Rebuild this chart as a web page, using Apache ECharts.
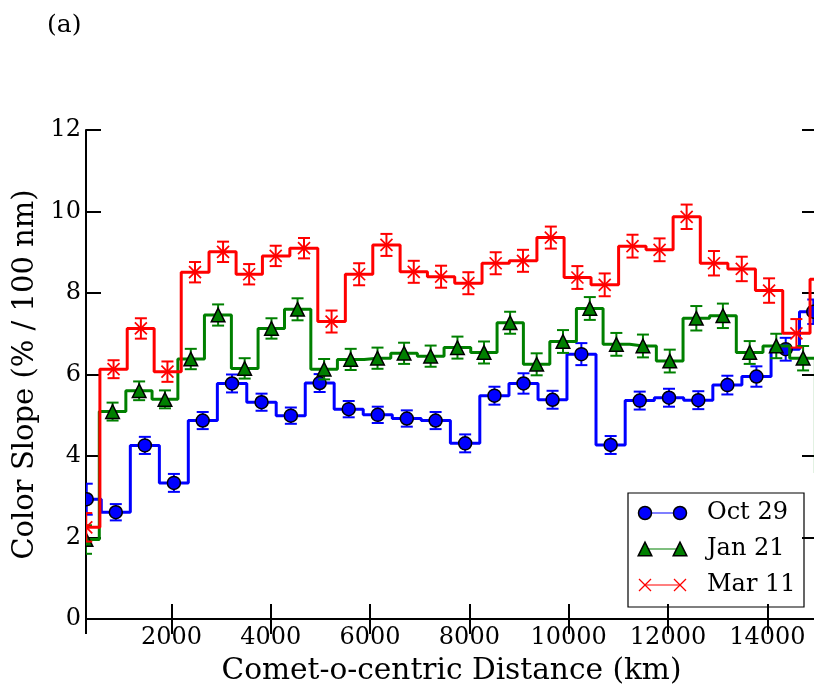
<!DOCTYPE html>
<html>
<head>
<meta charset="utf-8" />
<title></title>
<script type="text/javascript" src="https://cdn.jsdelivr.net/npm/echarts/dist/echarts.min.js"></script>
<style>html,body{margin:0;padding:0;background:#fff;}</style>
</head>
<body>
<div id="chart" style="width:814px;height:692px;"></div>
<script type="text/javascript">
// distance (km), colour slope (% / 100 nm) and error for each date
var octX = [295, 880, 1465, 2050, 2630, 3220, 3815, 4405, 4985, 5570, 6155, 6740, 7320, 7915, 8505, 9090, 9675, 10255, 10845, 11430, 12020, 12610, 13195, 13780, 14370, 14925];
var octY = [2.94, 2.62, 4.26, 3.34, 4.87, 5.78, 5.32, 4.99, 5.79, 5.15, 5.01, 4.92, 4.87, 4.31, 5.48, 5.78, 5.38, 6.50, 4.27, 5.36, 5.43, 5.37, 5.74, 5.95, 6.62, 7.54];
var octErr = [0.38, 0.2, 0.21, 0.22, 0.21, 0.22, 0.21, 0.2, 0.22, 0.2, 0.2, 0.2, 0.21, 0.22, 0.22, 0.25, 0.22, 0.27, 0.22, 0.22, 0.22, 0.22, 0.23, 0.25, 0.28, 0.3];

var janX = [280, 815, 1350, 1870, 2390, 2940, 3475, 4015, 4540, 5075, 5610, 6150, 6685, 7220, 7760, 8295, 8820, 9355, 9885, 10425, 10960, 11495, 12035, 12570, 13105, 13645, 14180, 14720, 15215];
var janY = [1.95, 5.09, 5.60, 5.39, 6.38, 7.46, 6.15, 7.13, 7.60, 6.13, 6.37, 6.40, 6.52, 6.45, 6.66, 6.54, 7.27, 6.25, 6.81, 7.62, 6.74, 6.70, 6.33, 7.38, 7.44, 6.54, 6.70, 6.40, 3.58];
var janErr = [0.35, 0.22, 0.23, 0.22, 0.25, 0.26, 0.25, 0.25, 0.27, 0.25, 0.26, 0.26, 0.26, 0.26, 0.27, 0.27, 0.27, 0.27, 0.28, 0.28, 0.28, 0.28, 0.28, 0.3, 0.3, 0.28, 0.3, 0.3, 0.35];

var marX = [285, 835, 1385, 1920, 2475, 3040, 3565, 4100, 4670, 5225, 5780, 6330, 6880, 7430, 7980, 8530, 9080, 9640, 10175, 10725, 11285, 11830, 12375, 12925, 13485, 14035, 14585, 15135];
var marY = [2.25, 6.13, 7.13, 6.07, 8.51, 9.01, 8.46, 8.91, 9.10, 7.30, 8.46, 9.18, 8.52, 8.40, 8.24, 8.73, 8.79, 9.36, 8.38, 8.20, 9.15, 9.06, 9.87, 8.73, 8.59, 8.06, 7.01, 8.34];
var marErr = [0.35, 0.22, 0.25, 0.25, 0.25, 0.25, 0.25, 0.25, 0.25, 0.27, 0.27, 0.27, 0.27, 0.27, 0.27, 0.27, 0.27, 0.27, 0.28, 0.28, 0.28, 0.28, 0.3, 0.3, 0.3, 0.3, 0.35, 0.35];

var names = ['Oct 29', 'Jan 21', 'Mar 11'];
var colors = ['#0000ff', '#008000', '#ff0000'];
var markers = ['circle', 'triangle', 'cross'];

var FONT = 'DejaVu Serif';

function pairs(xs, ys) {
	return xs.map(function (x, i) { return [x, ys[i]]; });
}
function triples(xs, ys, es) {
	return xs.map(function (x, i) { return [x, ys[i], es[i]]; });
}

// marker shapes, centred on (cx, cy)
function markerShape(kind, cx, cy, col, small) {
	if (kind === 'circle') {
		return {type: 'circle', shape: {cx: cx, cy: cy, r: 6.5}, style: {fill: col, stroke: '#000', lineWidth: 1.5}};
	}
	if (kind === 'triangle') {
		var h = 6.8;
		return {type: 'polygon', shape: {points: [[cx, cy - h], [cx - h, cy + h], [cx + h, cy + h]]}, style: {fill: col, stroke: '#000', lineWidth: 1.5}};
	}
	var d = 6;
	return {type: 'group', children: [
		{type: 'line', shape: {x1: cx - d, y1: cy - d, x2: cx + d, y2: cy + d}, style: {stroke: col, lineWidth: small ? 1.2 : 1.7}},
		{type: 'line', shape: {x1: cx - d, y1: cy + d, x2: cx + d, y2: cy - d}, style: {stroke: col, lineWidth: small ? 1.2 : 1.7}}
	]};
}

// error bar + marker for each point
function errRender(kind, col) {
	return function (params, api) {
		var x = api.value(0), y = api.value(1), e = api.value(2);
		var c = api.coord([x, y]);
		var t = api.coord([x, y + e]);
		var b = api.coord([x, y - e]);
		var st = {stroke: col, lineWidth: 2};
		return {
			type: 'group',
			children: [
				{type: 'line', shape: {x1: c[0], y1: t[1], x2: c[0], y2: b[1]}, style: st},
				{type: 'line', shape: {x1: c[0] - 6, y1: t[1], x2: c[0] + 6, y2: t[1]}, style: st},
				{type: 'line', shape: {x1: c[0] - 6, y1: b[1], x2: c[0] + 6, y2: b[1]}, style: st},
				markerShape(kind, c[0], c[1], col)
			]
		};
	};
}

var xs = [octX, janX, marX], ys = [octY, janY, marY], es = [octErr, janErr, marErr];
var series = [];
for (var k = 0; k < 3; k++) {
	series.push({
		type: 'line',
		name: names[k],
		step: 'middle',
		data: pairs(xs[k], ys[k]),
		showSymbol: false,
		symbol: 'none',
		lineStyle: {color: colors[k], width: 3},
		itemStyle: {color: colors[k]},
		z: 3 + k * 2,
		animation: false
	});
	series.push({
		type: 'custom',
		name: names[k] + ' err',
		data: triples(xs[k], ys[k], es[k]),
		encode: {x: 0, y: 1},
		clip: true,
		renderItem: errRender(markers[k], colors[k]),
		z: 4 + k * 2,
		animation: false
	});
}

// legend box (matplotlib style: marker - line - marker)
var legendChildren = [
	{type: 'rect', shape: {x: 628, y: 493, width: 176, height: 114}, style: {fill: '#fff', stroke: '#000', lineWidth: 1.2}}
];
var rowsY = [513, 549, 585];
for (var j = 0; j < 3; j++) {
	legendChildren.push({type: 'line', shape: {x1: 645, y1: rowsY[j], x2: 680, y2: rowsY[j]}, style: {stroke: colors[j], lineWidth: 1.2}});
	legendChildren.push(markerShape(markers[j], 645, rowsY[j], colors[j], true));
	legendChildren.push(markerShape(markers[j], 680, rowsY[j], colors[j], true));
	legendChildren.push({type: 'text', x: 707, y: rowsY[j], style: {text: names[j], font: '24px "' + FONT + '"', fill: '#000', verticalAlign: 'middle', align: 'left'}});
}

var tickStyle = {show: true, inside: true, length: 15, lineStyle: {color: '#000', width: 2}};
var lineStyle = {show: true, lineStyle: {color: '#000', width: 2}};
var plain = function (v) { return String(v); };

var chart = echarts.init(document.getElementById('chart'));
chart.setOption({
	backgroundColor: '#fff',
	animation: false,
	title: {
		text: '(a)',
		left: 47,
		top: 13,
		padding: 0,
		textStyle: {fontFamily: FONT, fontSize: 25, fontWeight: 'normal', color: '#000'}
	},
	grid: {left: 86, top: 130, right: -3, bottom: 73, containLabel: false, outerBoundsMode: 'none'},
	xAxis: [{
		type: 'value',
		position: 'bottom',
		min: 280,
		max: 15000,
		minInterval: 2000,
		maxInterval: 2000,
		name: 'Comet-o-centric Distance (km)',
		nameLocation: 'middle',
		nameGap: 37,
		nameTextStyle: {fontFamily: FONT, fontSize: 29.6, color: '#000'},
		axisLine: lineStyle,
		axisTick: tickStyle,
		axisLabel: {fontFamily: FONT, fontSize: 24, color: '#000', margin: 7, showMinLabel: false, showMaxLabel: false, formatter: plain},
		splitLine: {show: false}
	}, {
		type: 'value',
		position: 'top',
		min: 280,
		max: 15000,
		minInterval: 2000,
		maxInterval: 2000,
		axisLine: lineStyle,
		axisTick: tickStyle,
		axisLabel: {show: false},
		splitLine: {show: false}
	}],
	yAxis: [{
		type: 'value',
		position: 'left',
		min: 0,
		max: 12,
		interval: 2,
		name: 'Color Slope (% / 100 nm)',
		nameLocation: 'middle',
		nameGap: 41,
		nameTextStyle: {fontFamily: FONT, fontSize: 29, color: '#000'},
		axisLine: lineStyle,
		axisTick: tickStyle,
		axisLabel: {fontFamily: FONT, fontSize: 24, color: '#000', margin: 5, formatter: plain},
		splitLine: {show: false}
	}, {
		type: 'value',
		position: 'right',
		min: 0,
		max: 12,
		interval: 2,
		axisLine: lineStyle,
		axisTick: tickStyle,
		axisLabel: {show: false},
		splitLine: {show: false}
	}],
	series: series,
	graphic: [{type: 'group', z: 100, children: legendChildren}]
});
</script>
</body>
</html>
